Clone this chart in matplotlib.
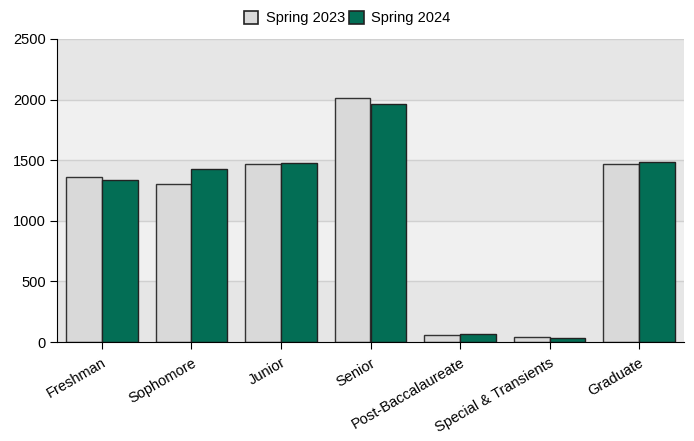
import numpy as np
import matplotlib.pyplot as plt
from matplotlib.patches import Patch

plt.rcParams['font.family'] = ['Liberation Sans', 'DejaVu Sans']

categories = ['Freshman', 'Sophomore', 'Junior', 'Senior', 'Post-Baccalaureate',
              'Special & Transients', 'Graduate']
spring_2023 = [1358, 1306, 1471, 2012, 57, 41, 1468]
spring_2024 = [1339, 1425, 1477, 1962, 66, 34, 1483]

grey = '#d9d9d9'
green = '#036e55'

fig = plt.figure(figsize=(6.94, 4.41), dpi=100)
ax = fig.add_axes([57/694, 1-342/441, 627/694, 303/441])

# alternating bands
for k, lo in enumerate(range(0, 2500, 500)):
    ax.axhspan(lo, lo+500, color='#e6e6e6' if k % 2 == 0 else '#f0f0f0', zorder=0, lw=0)
for y in range(500, 2501, 500):
    ax.axhline(y, color='#d0d0d0', lw=1, zorder=1)

x = np.arange(len(categories))
w = 0.4
ax.bar(x - w/2, spring_2023, w, color=grey, edgecolor='#333333', lw=1, zorder=2)
ax.bar(x + w/2, spring_2024, w, color=green, edgecolor='#222222', lw=1, zorder=2)

ax.set_xlim(-0.5, len(categories) - 0.5)
ax.set_ylim(0, 2500)
ax.set_yticks(range(0, 2501, 500))
ax.set_xticks(x)
ax.set_xticklabels(categories, rotation=30, ha='right', rotation_mode='anchor')
ax.tick_params(axis='both', labelsize=10.5, length=5, color='black')
ax.tick_params(axis='x', pad=5)
ax.tick_params(axis='y', pad=3)
for s in ['top', 'right']:
    ax.spines[s].set_visible(False)
ax.spines['left'].set_color('black')
ax.spines['bottom'].set_color('black')
ax.spines['bottom'].set_zorder(3)

handles = [Patch(facecolor=grey, edgecolor='#222222', lw=1.2, label='Spring 2023'),
           Patch(facecolor=green, edgecolor='#222222', lw=1.2, label='Spring 2024')]
fig.legend(handles=handles, loc='center', bbox_to_anchor=(0.5, 1-18/441), ncol=2,
           frameon=False, fontsize=10.5, handlelength=1, handleheight=1,
           handletextpad=0.5, columnspacing=0.3, borderpad=0)

fig.savefig('out.png', dpi=100)
